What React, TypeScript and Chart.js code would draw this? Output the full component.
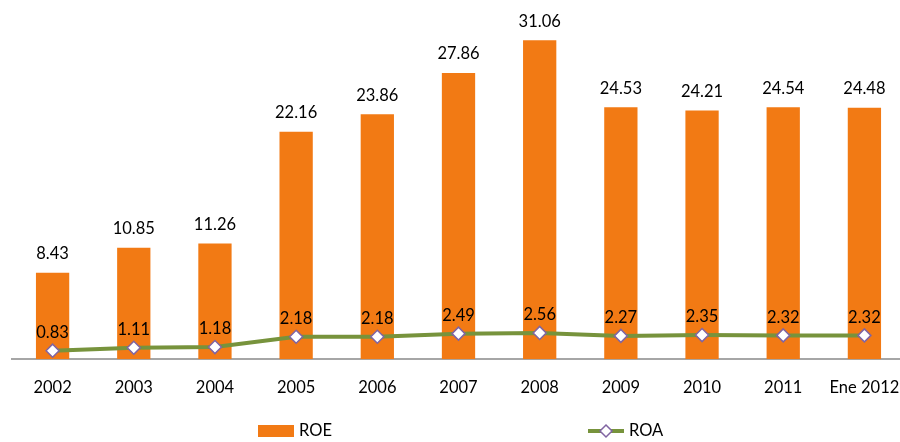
import React, { useEffect, useRef } from "react";
import { Chart, registerables } from "chart.js";

Chart.register(...registerables);

const categories = ["2002", "2003", "2004", "2005", "2006", "2007", "2008", "2009", "2010", "2011", "Ene 2012"];
const roeValues = [8.43, 10.85, 11.26, 22.16, 23.86, 27.86, 31.06, 24.53, 24.21, 24.54, 24.48];
const roaValues = [0.83, 1.11, 1.18, 2.18, 2.18, 2.49, 2.56, 2.27, 2.35, 2.32, 2.32];

const ORANGE = "#F27A14";
const GREEN = "#77933C";
const PURPLE = "#8064A2";
const FONT = "Lato, 'Open Sans', sans-serif";
const TEXT = "#000";

const labelPlugin = {
  id: "valueLabels",
  afterDatasetsDraw(chart: any) {
    const ctx = chart.ctx;
    ctx.save();
    ctx.fillStyle = TEXT;
    ctx.font = `16.5px ${FONT}`;
    ctx.textAlign = "center";
    ctx.textBaseline = "middle";
    const barMeta = chart.getDatasetMeta(0);
    barMeta.data.forEach((el: any, i: number) => {
      ctx.fillText(roeValues[i].toFixed(2), el.x, el.y - 19);
    });
    const lineMeta = chart.getDatasetMeta(1);
    lineMeta.data.forEach((el: any, i: number) => {
      ctx.fillText(roaValues[i].toFixed(2), el.x, el.y - 18);
    });
    ctx.restore();
  },
  afterDraw(chart: any) {
    const ctx = chart.ctx;
    ctx.save();
    const y = 431;
    // ROE legend
    ctx.fillStyle = ORANGE;
    ctx.fillRect(258, y - 6, 36, 12);
    ctx.fillStyle = TEXT;
    ctx.font = `16.5px ${FONT}`;
    ctx.textAlign = "left";
    ctx.textBaseline = "middle";
    ctx.fillText("ROE", 299, y);
    // ROA legend
    ctx.strokeStyle = GREEN;
    ctx.lineWidth = 4;
    ctx.beginPath();
    ctx.moveTo(588, y);
    ctx.lineTo(624, y);
    ctx.stroke();
    ctx.fillStyle = "#fff";
    ctx.strokeStyle = PURPLE;
    ctx.lineWidth = 1.5;
    ctx.beginPath();
    ctx.moveTo(606, y - 6);
    ctx.lineTo(612, y);
    ctx.lineTo(606, y + 6);
    ctx.lineTo(600, y);
    ctx.closePath();
    ctx.fill();
    ctx.stroke();
    ctx.fillStyle = TEXT;
    ctx.fillText("ROA", 629, y);
    ctx.restore();
  },
};

export default function App() {
  const ref = useRef<HTMLCanvasElement>(null);
  useEffect(() => {
    if (!ref.current) return;
    const chart = new Chart(ref.current, {
      type: "bar",
      data: {
        labels: categories,
        datasets: [
          {
            type: "bar",
            label: "ROE",
            data: roeValues,
            backgroundColor: ORANGE,
            barPercentage: 0.41,
            categoryPercentage: 1,
            order: 2,
          },
          {
            type: "line",
            label: "ROA",
            data: roaValues,
            borderColor: GREEN,
            borderWidth: 4,
            pointStyle: "rectRot",
            pointRadius: 6.5,
            pointBackgroundColor: "#fff",
            pointBorderColor: PURPLE,
            pointBorderWidth: 1.5,
            tension: 0,
            order: 1,
          } as any,
        ],
      },
      options: {
        animation: false,
        responsive: false,
        layout: { padding: { left: 12, right: 0, top: 5, bottom: 33 } },
        plugins: { legend: { display: false }, tooltip: { enabled: false } },
        scales: {
          x: {
            grid: { display: false },
            border: { display: true, color: "#A6A6A6", width: 2 },
            ticks: { color: TEXT, font: { size: 16.5, family: FONT }, padding: 11, maxRotation: 0 },
          },
          y: {
            display: false,
            min: 0,
            max: 34.2,
          },
        },
      },
      plugins: [labelPlugin],
    });
    return () => chart.destroy();
  }, []);
  return (
    <div style={{ position: "fixed", left: 0, top: 0, width: 900, height: 442, background: "#fff", overflow: "hidden" }}>
      <canvas ref={ref} width={913} height={442} style={{ width: 913, height: 442, display: "block" }} />
    </div>
  );
}
